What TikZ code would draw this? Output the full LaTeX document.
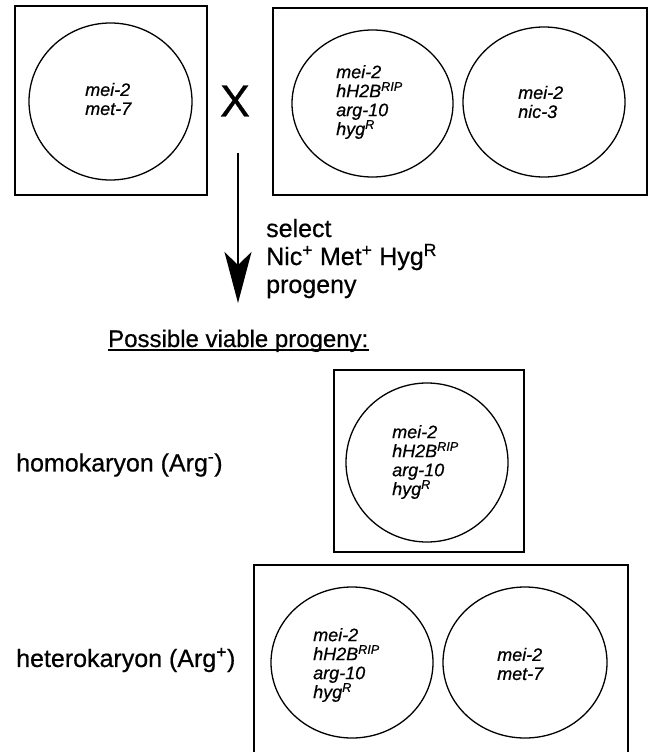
\documentclass[tikz,border=0pt]{standalone}
\usepackage{fontspec}
\setmainfont{Liberation Sans}
\newfontfamily\heavysans[FakeBold=0.6]{Liberation Sans}
\usetikzlibrary{shapes.geometric,arrows.meta}
\begin{document}
\begin{tikzpicture}[x=1pt,y=-1pt,
  frame/.style={draw, rectangle, line width=1.3pt, inner sep=0pt},
  cell/.style={draw, ellipse, line width=1.3pt, inner sep=0pt},
  genes/.style={font=\heavysans\fontsize{18}{19}\selectfont\itshape, align=left, inner sep=0pt, anchor=west},
  label/.style={font=\heavysans\fontsize{25}{28}\selectfont, align=left, inner sep=0pt}]
\useasboundingbox (0,0) rectangle (650,752);
\clip (0,0) rectangle (650,752);

% parental strains
\node[frame, minimum width=192pt, minimum height=189pt] (p1box) at (111,100.5) {};
\node[cell, minimum width=163pt, minimum height=157pt] (p1cell) at (110.5,101.5) {};
\node[genes] (p1txt) at (85,99) {mei-2\\met-7};

\node[font=\heavysans\fontsize{45}{45}\selectfont, inner sep=0pt] (cross) at (235,101) {X};

\node[frame, minimum width=374pt, minimum height=187pt] (p2box) at (460,101.5) {};
\node[cell, minimum width=161pt, minimum height=147pt] (p2cellA) at (372.5,103.5) {};
\node[cell, minimum width=162pt, minimum height=150pt] (p2cellB) at (544,102) {};
\node[genes] (p2txtA) at (336,102) {mei-2\\hH2B\textsuperscript{RIP}\\arg-10\\hyg\textsuperscript{R}};
\node[genes] (p2txtB) at (518,102) {mei-2\\nic-3};

% selection step
\coordinate (arrowtop) at (238,153);
\coordinate (arrowtip) at (238,303);
\draw[line width=1.5pt, -{Stealth[length=51pt,width=27pt,inset=13pt]}] (arrowtop) -- (arrowtip);
\node[label, anchor=base west] (select) at (266,293)
  {select\\Nic\textsuperscript{+} Met\textsuperscript{+} Hyg\textsuperscript{R}\\progeny};

% heading
\node[label, font=\heavysans\fontsize{24}{28}\selectfont, anchor=base west] (heading) at (108,347) {Possible viable progeny:};
\draw[line width=1.4pt] ([yshift=-3pt]heading.base west) -- ([yshift=-3pt]heading.base east);

% homokaryon
\node[label, anchor=west] (homo) at (16,465) {homokaryon (Arg\textsuperscript{-})};
\node[frame, minimum width=190pt, minimum height=182pt] (homobox) at (429,461) {};
\node[cell, minimum width=162pt, minimum height=159pt] (homocell) at (427,462.5) {};
\node[genes] (homotxt) at (392,462) {mei-2\\hH2B\textsuperscript{RIP}\\arg-10\\hyg\textsuperscript{R}};

% heterokaryon
\node[label, anchor=west] (hetero) at (16,660) {heterokaryon (Arg\textsuperscript{+})};
\node[frame, minimum width=374pt, minimum height=195pt] (hetbox) at (441,662.5) {};
\node[cell, minimum width=162pt, minimum height=151pt] (hetcellA) at (352,662.5) {};
\node[cell, minimum width=164pt, minimum height=151pt] (hetcellB) at (525,662.5) {};
\node[genes] (hettxtA) at (313,665) {mei-2\\hH2B\textsuperscript{RIP}\\arg-10\\hyg\textsuperscript{R}};
\node[genes] (hettxtB) at (497,664) {mei-2\\met-7};
\end{tikzpicture}
\end{document}
